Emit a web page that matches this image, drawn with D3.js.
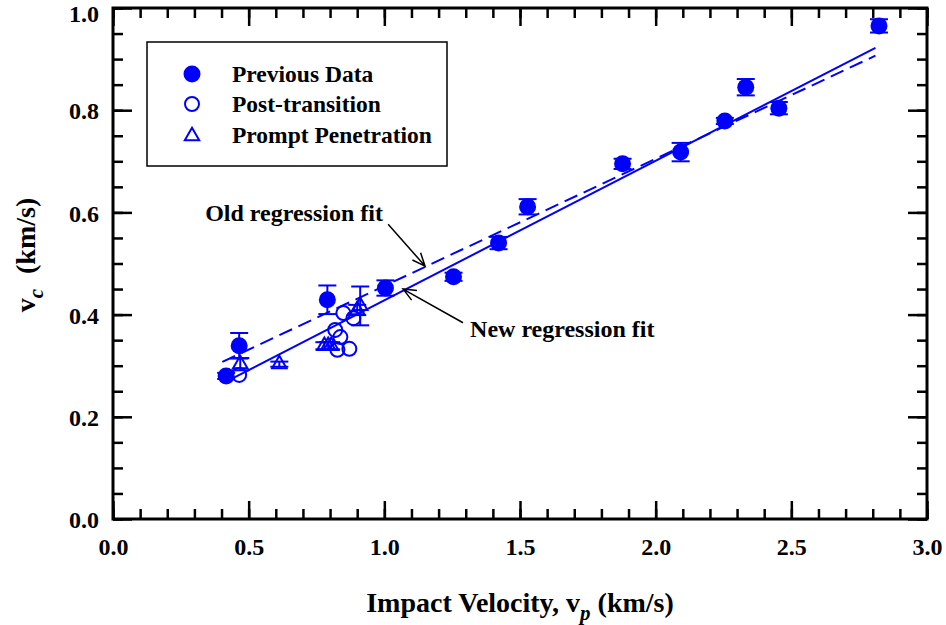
<!DOCTYPE html>
<html>
<head>
<meta charset="utf-8">
<script src="https://cdn.jsdelivr.net/npm/d3@7"></script>
<style>
  body { margin: 0; background: #fff; }
  svg text { font-family: "Liberation Serif", "Times New Roman", serif; font-weight: bold; }
</style>
</head>
<body>
<div id="wrapper"></div>
<script>
// Previous Data (filled circles)
const prevX = [0.417, 0.465, 0.790, 1.004, 1.255, 1.421, 1.528, 1.878, 2.092, 2.255, 2.332, 2.454, 2.823]
const prevY = [0.280, 0.339, 0.429, 0.452, 0.474, 0.540, 0.611, 0.695, 0.718, 0.779, 0.845, 0.804, 0.965]
const prevErr = [0.006, 0.025, 0.028, 0.015, 0.008, 0.012, 0.015, 0.010, 0.018, 0.006, 0.016, 0.012, 0.013]

// Post-transition (open circles)
const postX = [0.465, 0.849, 0.886, 0.819, 0.838, 0.827, 0.871]
const postY = [0.282, 0.403, 0.393, 0.370, 0.356, 0.331, 0.333]

// Prompt Penetration (open triangles)
const promptX = [0.469, 0.613, 0.779, 0.793, 0.804, 0.900, 0.911]
const promptY = [0.303, 0.303, 0.339, 0.339, 0.339, 0.409, 0.417]
const promptErr = [0.012, 0.005, 0.007, 0.007, 0.007, 0.010, 0.038]

// regression fits  y = a + b x
const fitNames = ["New regression fit", "Old regression fit"]
const fitA = [0.155, 0.207]
const fitB = [0.273, 0.249]
const fitStart = [0.444, 0.403]
const fitEnd = [2.81, 2.81]

const xTicksMajor = [0, 0.5, 1.0, 1.5, 2.0, 2.5, 3.0]
const yTicksMajor = [0, 0.2, 0.4, 0.6, 0.8, 1.0]
const legendNames = ["Previous Data", "Post-transition", "Prompt Penetration"]

const blue = "#0000ff"

const dms = {
  width: 946,
  height: 625,
  margin: { top: 8, right: 19, bottom: 106, left: 113 },
}
dms.boundedWidth = dms.width - dms.margin.left - dms.margin.right
dms.boundedHeight = dms.height - dms.margin.top - dms.margin.bottom

const svg = d3.select("#wrapper")
  .append("svg")
  .attr("width", dms.width)
  .attr("height", dms.height)

const bounds = svg.append("g")
  .attr("transform", `translate(${dms.margin.left},${dms.margin.top})`)

const xScale = d3.scaleLinear().domain([0, 3]).range([0, dms.boundedWidth])
const yScale = d3.scaleLinear().domain([0, 1]).range([dms.boundedHeight, 0])

// Axes: minor + major ticks, all pointing inwards, mirrored on top/right
const minorX = d3.range(0, 3.0001, 0.1)
const minorY = d3.range(0, 1.0001, 0.05)

function styleAxis(g) {
  g.select(".domain").remove()
  g.selectAll(".tick line").attr("stroke", "#000").attr("stroke-width", 2.5)
  g.selectAll(".tick text")
    .attr("fill", "#000")
    .style("font-size", "24px")
    .style("font-family", "'Liberation Serif', serif")
    .style("font-weight", "bold")
}

bounds.append("g").attr("transform", `translate(0,${dms.boundedHeight})`)
  .call(d3.axisBottom(xScale).tickValues(minorX).tickSize(-10).tickFormat(""))
  .call(styleAxis)
bounds.append("g").attr("transform", `translate(0,${dms.boundedHeight})`)
  .call(d3.axisBottom(xScale).tickValues(xTicksMajor).tickSize(-18).tickPadding(19).tickFormat(d3.format(".1f")))
  .call(styleAxis)
bounds.append("g")
  .call(d3.axisTop(xScale).tickValues(minorX).tickSize(-10).tickFormat(""))
  .call(styleAxis)
bounds.append("g")
  .call(d3.axisTop(xScale).tickValues(xTicksMajor).tickSize(-18).tickFormat(""))
  .call(styleAxis)

bounds.append("g")
  .call(d3.axisLeft(yScale).tickValues(minorY).tickSize(-10).tickFormat(""))
  .call(styleAxis)
bounds.append("g")
  .call(d3.axisLeft(yScale).tickValues(yTicksMajor).tickSize(-19).tickPadding(14).tickFormat(d3.format(".1f")))
  .call(styleAxis)
  .call(g => g.selectAll(".tick text").attr("dy", "0.36em"))
  // keep the top label inside the page
  .call(g => g.selectAll(".tick text").filter(d => d === 1).attr("y", 5))
bounds.append("g").attr("transform", `translate(${dms.boundedWidth},0)`)
  .call(d3.axisRight(yScale).tickValues(minorY).tickSize(-10).tickFormat(""))
  .call(styleAxis)
bounds.append("g").attr("transform", `translate(${dms.boundedWidth},0)`)
  .call(d3.axisRight(yScale).tickValues(yTicksMajor).tickSize(-19).tickFormat(""))
  .call(styleAxis)

bounds.append("rect")
  .attr("width", dms.boundedWidth)
  .attr("height", dms.boundedHeight)
  .attr("fill", "none")
  .attr("stroke", "#000")
  .attr("stroke-width", 3)

// Regression lines
const fits = fitNames.map((name, i) => ({ name, a: fitA[i], b: fitB[i], x0: fitStart[i], x1: fitEnd[i] }))
bounds.selectAll(".fit")
  .data(fits)
  .join("line")
  .attr("class", "fit")
  .attr("x1", d => xScale(d.x0))
  .attr("y1", d => yScale(d.a + d.b * d.x0))
  .attr("x2", d => xScale(d.x1))
  .attr("y2", d => yScale(d.a + d.b * d.x1))
  .attr("stroke", blue)
  .attr("stroke-width", 2)
  .attr("stroke-dasharray", d => d.name.startsWith("Old") ? "14,7" : null)

// Error bars
const capW = 9
function errorBars(xs, ys, errs) {
  const data = xs.map((x, i) => ({ x, y: ys[i], e: errs[i] }))
  const g = bounds.append("g").attr("stroke", blue).attr("stroke-width", 2).attr("fill", "none")
  const eb = g.selectAll("g").data(data).join("g")
  eb.append("line")
    .attr("x1", d => xScale(d.x)).attr("x2", d => xScale(d.x))
    .attr("y1", d => yScale(d.y - d.e)).attr("y2", d => yScale(d.y + d.e))
  eb.append("line")
    .attr("x1", d => xScale(d.x) - capW).attr("x2", d => xScale(d.x) + capW)
    .attr("y1", d => yScale(d.y + d.e)).attr("y2", d => yScale(d.y + d.e))
  eb.append("line")
    .attr("x1", d => xScale(d.x) - capW).attr("x2", d => xScale(d.x) + capW)
    .attr("y1", d => yScale(d.y - d.e)).attr("y2", d => yScale(d.y - d.e))
}
errorBars(prevX, prevY, prevErr)
errorBars(promptX, promptY, promptErr)

const triangle = d3.symbol().type(d3.symbolTriangle).size(90)

// Post-transition open circles
bounds.append("g").selectAll("circle")
  .data(postX.map((x, i) => ({ x, y: postY[i] })))
  .join("circle")
  .attr("cx", d => xScale(d.x))
  .attr("cy", d => yScale(d.y))
  .attr("r", 7)
  .attr("fill", "none")
  .attr("stroke", blue)
  .attr("stroke-width", 2)

// Prompt penetration triangles
bounds.append("g").selectAll("path")
  .data(promptX.map((x, i) => ({ x, y: promptY[i] })))
  .join("path")
  .attr("d", triangle)
  .attr("transform", d => `translate(${xScale(d.x)},${yScale(d.y)})`)
  .attr("fill", "none")
  .attr("stroke", blue)
  .attr("stroke-width", 2)

// Previous data filled circles
bounds.append("g").selectAll("circle")
  .data(prevX.map((x, i) => ({ x, y: prevY[i] })))
  .join("circle")
  .attr("cx", d => xScale(d.x))
  .attr("cy", d => yScale(d.y))
  .attr("r", 8.5)
  .attr("fill", blue)

// Annotations with arrows
const notes = [
  { text: "Old regression fit", tx: 0.995, ty: 0.583, anchor: "end", ax0: 1.014, ay0: 0.577, ax1: 1.150, ay1: 0.495 },
  { text: "New regression fit", tx: 1.316, ty: 0.356, anchor: "start", ax0: 1.290, ay0: 0.384, ax1: 1.069, ay1: 0.450 },
]
notes.forEach(n => {
  bounds.append("text")
    .attr("x", xScale(n.tx)).attr("y", yScale(n.ty))
    .attr("text-anchor", n.anchor)
    .style("font-size", "24px")
    .text(n.text)
  const x0 = xScale(n.ax0), y0 = yScale(n.ay0), x1 = xScale(n.ax1), y1 = yScale(n.ay1)
  const ang = Math.atan2(y1 - y0, x1 - x0)
  const hl = 14, spread = 0.4
  bounds.append("path")
    .attr("d", `M${x0},${y0}L${x1},${y1}` +
      `M${x1 - hl * Math.cos(ang - spread)},${y1 - hl * Math.sin(ang - spread)}L${x1},${y1}` +
      `L${x1 - hl * Math.cos(ang + spread)},${y1 - hl * Math.sin(ang + spread)}`)
    .attr("fill", "none")
    .attr("stroke", "#000")
    .attr("stroke-width", 1.5)
})

// Legend
const legend = svg.append("g").attr("transform", "translate(147,42)")
legend.append("rect")
  .attr("width", 300).attr("height", 124)
  .attr("fill", "#fff").attr("stroke", "#000").attr("stroke-width", 1.5)
const rowY = [32, 62, 93]
legendNames.forEach((name, i) => {
  const row = legend.append("g").attr("transform", `translate(0,${rowY[i]})`)
  if (i === 0) row.append("circle").attr("cx", 45).attr("r", 8.5).attr("fill", blue)
  if (i === 1) row.append("circle").attr("cx", 45).attr("r", 7).attr("fill", "none").attr("stroke", blue).attr("stroke-width", 2)
  if (i === 2) row.append("path").attr("d", triangle).attr("transform", "translate(45,1)")
    .attr("fill", "none").attr("stroke", blue).attr("stroke-width", 2)
  row.append("text").attr("x", 85).attr("y", 8).style("font-size", "23.5px").text(name)
})

// Axis titles
const xTitle = svg.append("text")
  .attr("x", dms.margin.left + dms.boundedWidth / 2)
  .attr("y", 612)
  .attr("text-anchor", "middle")
  .style("font-size", "28px")
xTitle.append("tspan").text("Impact Velocity, v")
xTitle.append("tspan").attr("dy", 8).style("font-size", "21px").style("font-style", "italic").text("p")
xTitle.append("tspan").attr("dy", -8).text(" (km/s)")

const yTitle = svg.append("text")
  .attr("transform", "translate(35,255) rotate(-90)")
  .attr("text-anchor", "middle")
  .style("font-size", "28px")
yTitle.append("tspan").text("v")
yTitle.append("tspan").attr("dy", 8).style("font-size", "21px").style("font-style", "italic").text("c")
yTitle.append("tspan").attr("dy", -8).attr("dx", 8).text(" (km/s)")
</script>
</body>
</html>
